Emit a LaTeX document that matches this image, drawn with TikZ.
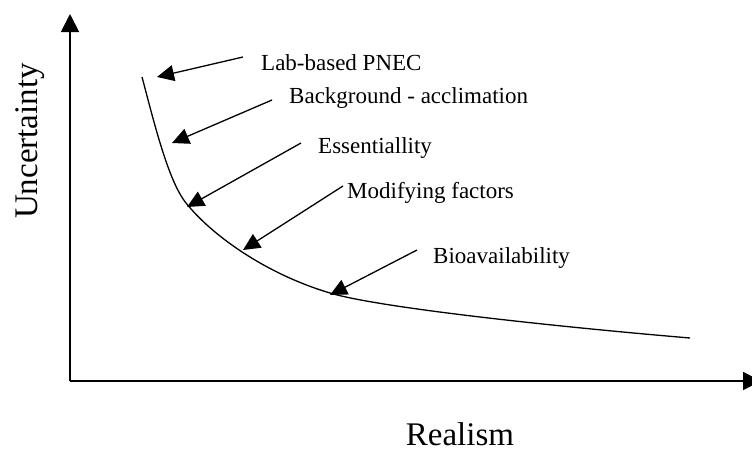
\documentclass[tikz,border=0pt]{standalone}
\usepackage{fontspec}
\setmainfont{Liberation Serif}
\usetikzlibrary{arrows.meta}
\begin{document}
\begin{tikzpicture}[x=1pt,y=1pt,
  axis/.style={line width=1.8pt,-{Triangle[length=18pt,width=18pt]}},
  pointer/.style={line width=1.3pt,-{Triangle[length=17pt,width=16pt]}},
  curve/.style={line width=1.3pt},
  lbl/.style={anchor=base west,inner sep=0pt,font=\fontsize{23}{27}\selectfont},
  axlbl/.style={inner sep=0pt,font=\fontsize{33}{38}\selectfont}]
\useasboundingbox (0,0) rectangle (752,-450);
% axes
\coordinate (O) at (70,-381);
\coordinate (ytip) at (70,-14);
\coordinate (xtip) at (761,-381);
\draw[axis] (O) -- (ytip);
\draw[axis] (O) -- (xtip);
\node[axlbl,rotate=90,anchor=base] (ylab) at (37,-141) {Uncertainty};
\node[axlbl,anchor=base] (xlab) at (460,-445.5) {Realism};
% curve
\coordinate (c0) at (142,-77);
\coordinate (c1) at (186,-203);
\coordinate (c3) at (330,-293);
\coordinate (c5) at (690,-338);
\draw[curve] (c0) .. controls (154,-122) and (168,-180.5) .. (c1)
  .. controls (212,-235.5) and (266,-274) .. (c3)
  .. controls (380,-308) and (560,-327) .. (c5);
% labels
\node[lbl] (l1) at (261,-70) {Lab-based PNEC};
\node[lbl] (l2) at (289,-103.5) {Background - acclimation};
\node[lbl] (l3) at (318,-153.5) {Essentiallity};
\node[lbl] (l4) at (347,-198.5) {Modifying factors};
\node[lbl] (l5) at (433,-263.5) {Bioavailability};
% pointer ends
\coordinate (s1) at (243,-57);
\coordinate (t1) at (157,-77);
\coordinate (s2) at (272,-100);
\coordinate (t2) at (172,-143);
\coordinate (s3) at (301,-143);
\coordinate (t3) at (187,-207);
\coordinate (s4) at (343,-186);
\coordinate (t4) at (243,-250);
\coordinate (s5) at (417,-250);
\coordinate (t5) at (330,-295);
\draw[pointer] (s1) -- (t1);
\draw[pointer] (s2) -- (t2);
\draw[pointer] (s3) -- (t3);
\draw[pointer] (s4) -- (t4);
\draw[pointer] (s5) -- (t5);
\end{tikzpicture}
\end{document}
